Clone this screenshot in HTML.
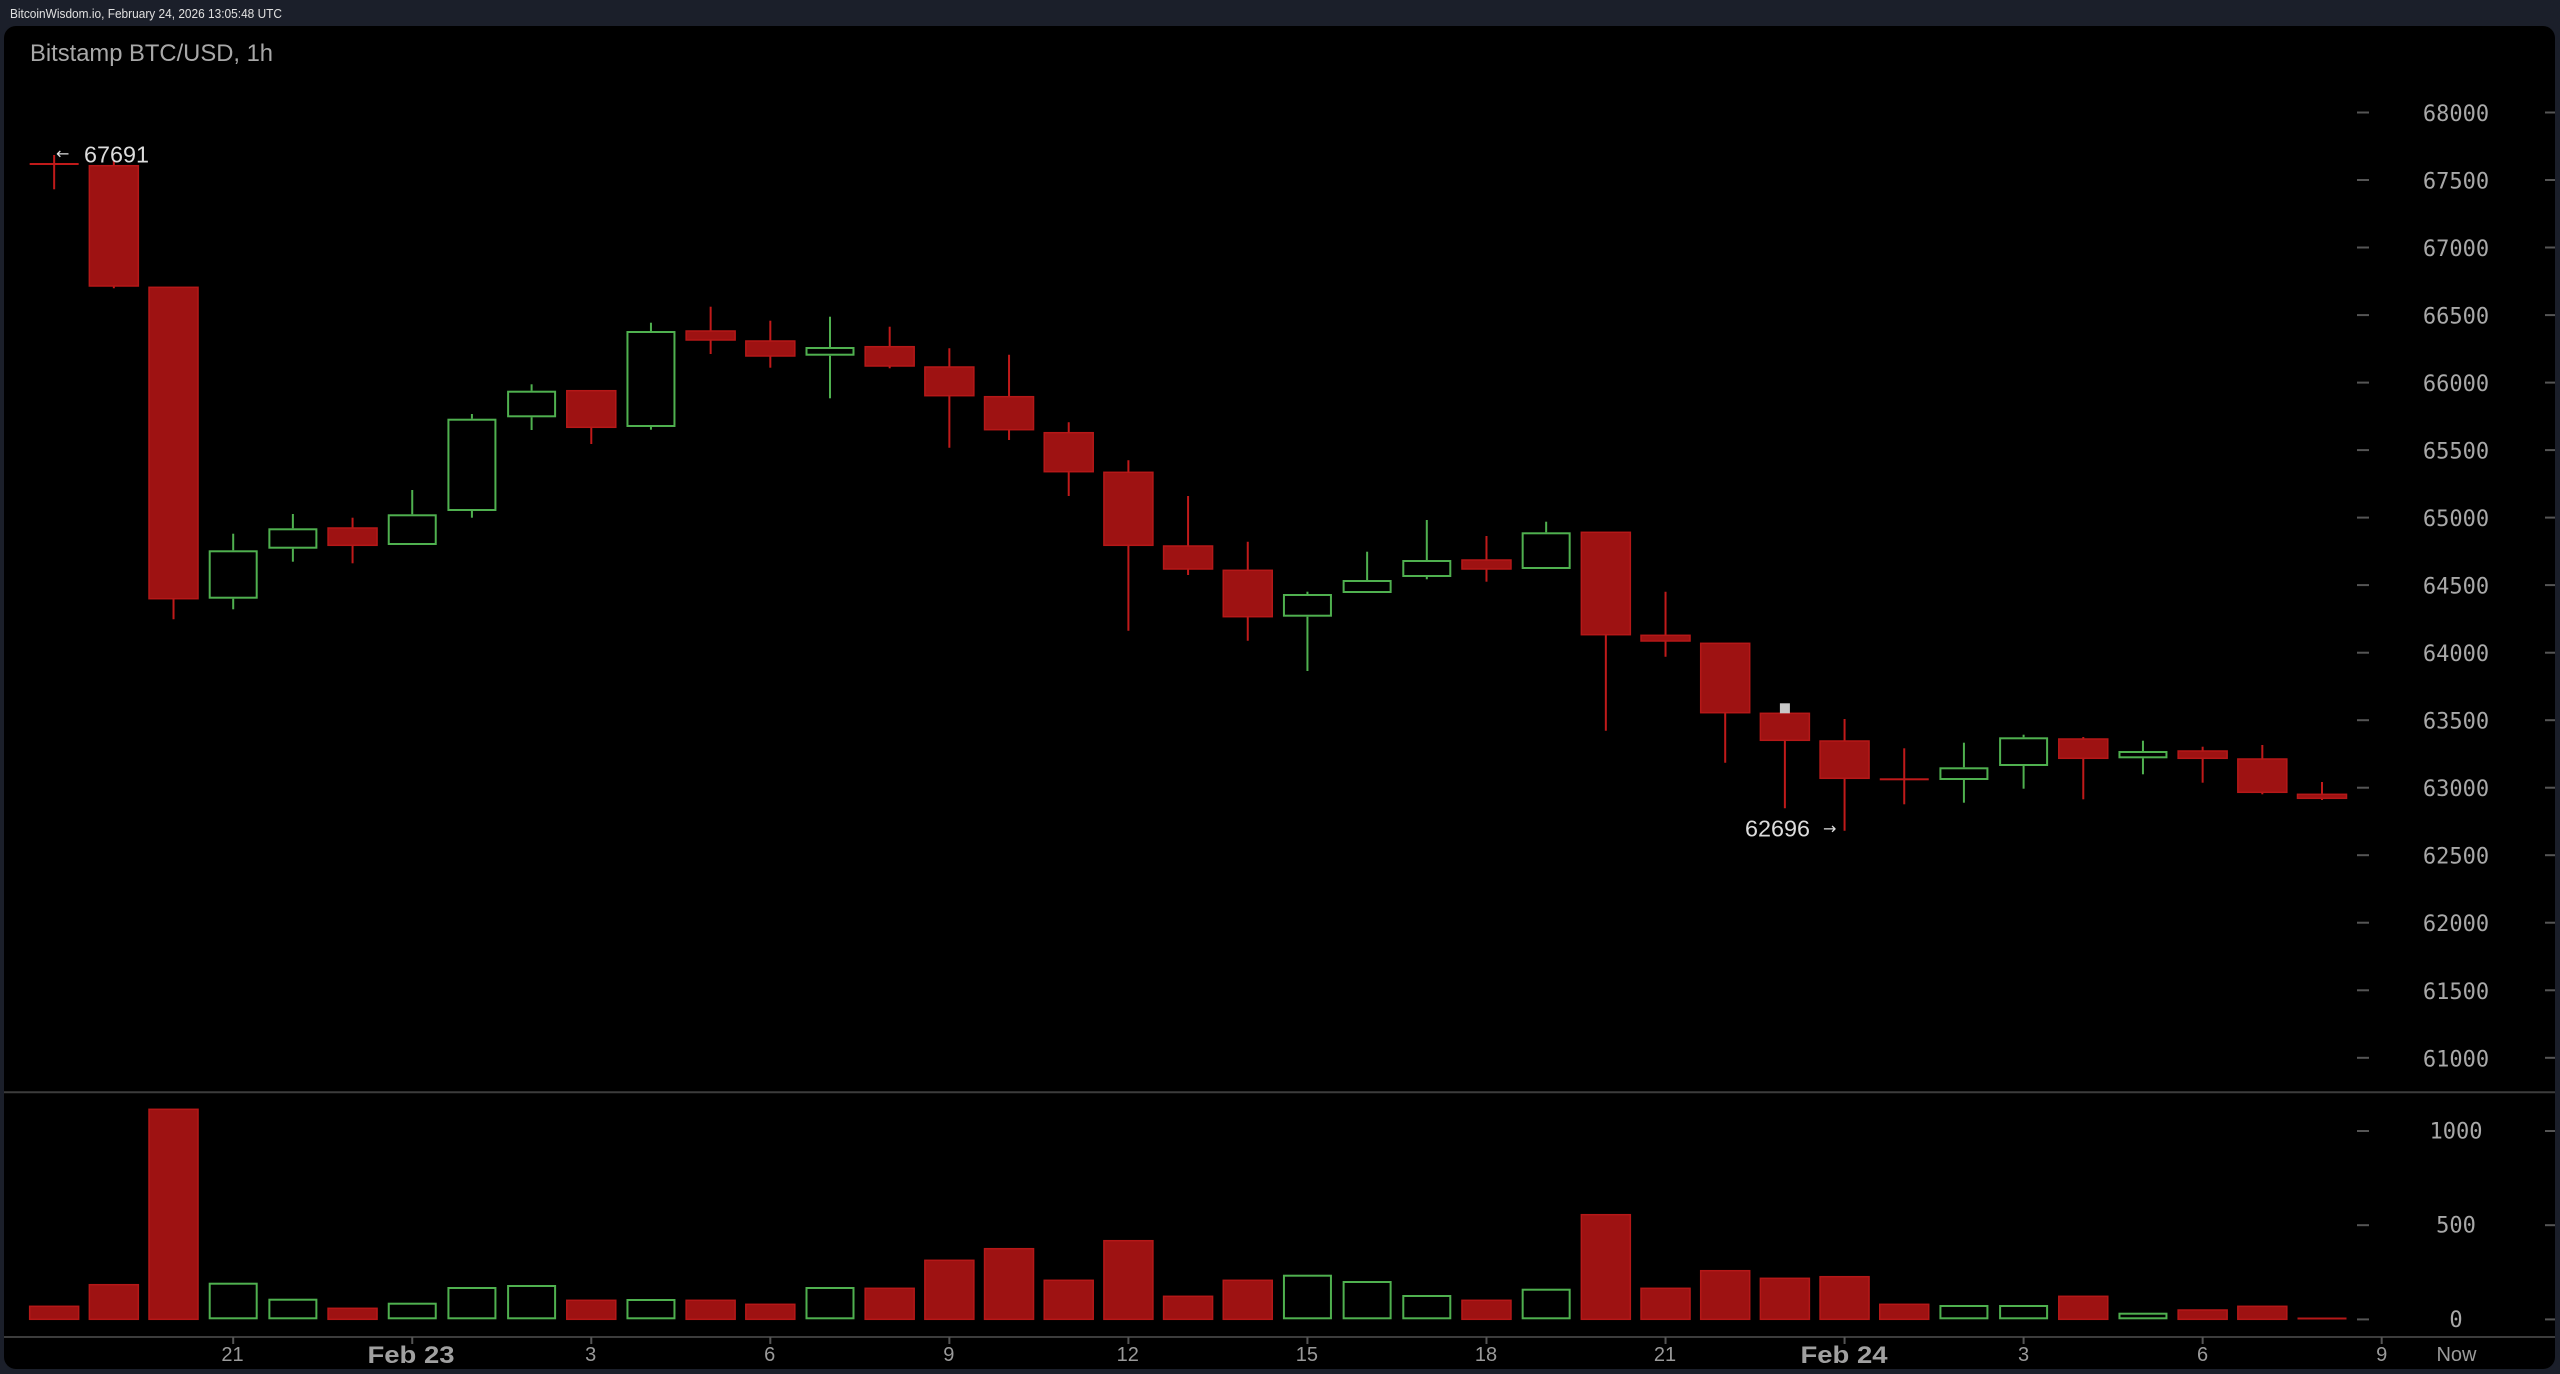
<!DOCTYPE html>
<html><head><meta charset="utf-8"><style>
html,body{margin:0;padding:0;background:#1b1f2a;}
svg{display:block;}
.rw{stroke:#c01a1a;stroke-width:2;}
.rb{fill:#9e1212;stroke:#b51818;stroke-width:1.5;}
.gw{stroke:#4fb04f;stroke-width:2;}
.gb{fill:none;stroke:#4fb04f;stroke-width:2;}
.yl{font-family:"DejaVu Sans Mono","Liberation Mono",monospace;font-size:22px;fill:#a8a8a8;text-anchor:middle;}
.xl{font-family:"Liberation Sans",sans-serif;font-size:20px;fill:#9a9a9a;text-anchor:middle;}
.xb{font-family:"Liberation Sans",sans-serif;font-size:24px;font-weight:bold;fill:#a0a0a0;text-anchor:middle;}
.tk{stroke:#555;stroke-width:2;}
</style></head><body>
<svg width="2560" height="1374" viewBox="0 0 2560 1374" xmlns="http://www.w3.org/2000/svg">
<rect x="0" y="0" width="2560" height="1374" fill="#1b1f2a"/>
<text x="10" y="18" font-family="Liberation Sans,sans-serif" font-size="13" fill="#e0e0e0" textLength="272" lengthAdjust="spacingAndGlyphs">BitcoinWisdom.io, February 24, 2026 13:05:48 UTC</text>
<rect x="4" y="26" width="2551" height="1343" rx="12" fill="#000"/>
<text x="30" y="61" font-family="Liberation Sans,sans-serif" font-size="24" fill="#a8a8a8" textLength="243" lengthAdjust="spacingAndGlyphs">Bitstamp BTC/USD, 1h</text>

<!-- price axis -->
<g class="tk">
<line x1="2357" y1="112.5" x2="2369" y2="112.5"/><line x1="2545" y1="112.5" x2="2555" y2="112.5"/>
<line x1="2357" y1="180" x2="2369" y2="180"/><line x1="2545" y1="180" x2="2555" y2="180"/>
<line x1="2357" y1="247.5" x2="2369" y2="247.5"/><line x1="2545" y1="247.5" x2="2555" y2="247.5"/>
<line x1="2357" y1="315.1" x2="2369" y2="315.1"/><line x1="2545" y1="315.1" x2="2555" y2="315.1"/>
<line x1="2357" y1="382.6" x2="2369" y2="382.6"/><line x1="2545" y1="382.6" x2="2555" y2="382.6"/>
<line x1="2357" y1="450.1" x2="2369" y2="450.1"/><line x1="2545" y1="450.1" x2="2555" y2="450.1"/>
<line x1="2357" y1="517.6" x2="2369" y2="517.6"/><line x1="2545" y1="517.6" x2="2555" y2="517.6"/>
<line x1="2357" y1="585.1" x2="2369" y2="585.1"/><line x1="2545" y1="585.1" x2="2555" y2="585.1"/>
<line x1="2357" y1="652.7" x2="2369" y2="652.7"/><line x1="2545" y1="652.7" x2="2555" y2="652.7"/>
<line x1="2357" y1="720.2" x2="2369" y2="720.2"/><line x1="2545" y1="720.2" x2="2555" y2="720.2"/>
<line x1="2357" y1="787.7" x2="2369" y2="787.7"/><line x1="2545" y1="787.7" x2="2555" y2="787.7"/>
<line x1="2357" y1="855.2" x2="2369" y2="855.2"/><line x1="2545" y1="855.2" x2="2555" y2="855.2"/>
<line x1="2357" y1="922.7" x2="2369" y2="922.7"/><line x1="2545" y1="922.7" x2="2555" y2="922.7"/>
<line x1="2357" y1="990.3" x2="2369" y2="990.3"/><line x1="2545" y1="990.3" x2="2555" y2="990.3"/>
<line x1="2357" y1="1057.8" x2="2369" y2="1057.8"/><line x1="2545" y1="1057.8" x2="2555" y2="1057.8"/>
<line x1="2357" y1="1131" x2="2369" y2="1131"/><line x1="2545" y1="1131" x2="2555" y2="1131"/>
<line x1="2357" y1="1225.2" x2="2369" y2="1225.2"/><line x1="2545" y1="1225.2" x2="2555" y2="1225.2"/>
<line x1="2357" y1="1319.4" x2="2369" y2="1319.4"/><line x1="2545" y1="1319.4" x2="2555" y2="1319.4"/>
</g>
<g class="yl">
<text x="2456" y="121">68000</text>
<text x="2456" y="188.5">67500</text>
<text x="2456" y="256">67000</text>
<text x="2456" y="323.6">66500</text>
<text x="2456" y="391.1">66000</text>
<text x="2456" y="458.6">65500</text>
<text x="2456" y="526.1">65000</text>
<text x="2456" y="593.6">64500</text>
<text x="2456" y="661.2">64000</text>
<text x="2456" y="728.7">63500</text>
<text x="2456" y="796.2">63000</text>
<text x="2456" y="863.7">62500</text>
<text x="2456" y="931.2">62000</text>
<text x="2456" y="998.8">61500</text>
<text x="2456" y="1066.3">61000</text>
<text x="2456" y="1138.5">1000</text>
<text x="2456" y="1232.7">500</text>
<text x="2456" y="1327">0</text>
</g>

<!-- separators -->
<line x1="4" y1="1092.3" x2="2555" y2="1092.3" stroke="#3c3c3c" stroke-width="2"/>
<line x1="4" y1="1337" x2="2555" y2="1337" stroke="#3c3c3c" stroke-width="2"/>

<!-- candles -->
<line class="rw" x1="54.16" y1="155" x2="54.16" y2="189.3"/><rect x="29.66" y="163" width="49" height="2" fill="#c01a1a"/>
<line class="rw" x1="113.84" y1="160.7" x2="113.84" y2="288.3"/><rect class="rb" x="89.34" y="165.7" width="49" height="120.3"/>
<line class="rw" x1="173.52" y1="287.3" x2="173.52" y2="619.3"/><rect class="rb" x="149.02" y="287.3" width="49" height="311.4"/>
<line class="gw" x1="233.2" y1="533.7" x2="233.2" y2="550.3"/><line class="gw" x1="233.2" y1="598.7" x2="233.2" y2="609.3"/><rect class="gb" x="209.7" y="551.3" width="47" height="46.4"/>
<line class="gw" x1="292.88" y1="514" x2="292.88" y2="528.3"/><line class="gw" x1="292.88" y1="548.7" x2="292.88" y2="561.7"/><rect class="gb" x="269.38" y="529.3" width="47" height="18.4"/>
<line class="rw" x1="352.56" y1="517.7" x2="352.56" y2="563.3"/><rect class="rb" x="328.06" y="528" width="49" height="17.3"/>
<line class="gw" x1="412.24" y1="490" x2="412.24" y2="514.3"/><rect class="gb" x="388.74" y="515.3" width="47" height="28.7"/>
<line class="gw" x1="471.92" y1="414" x2="471.92" y2="418.7"/><line class="gw" x1="471.92" y1="511" x2="471.92" y2="517.7"/><rect class="gb" x="448.42" y="419.7" width="47" height="90.3"/>
<line class="gw" x1="531.6" y1="384.3" x2="531.6" y2="390.7"/><line class="gw" x1="531.6" y1="417.3" x2="531.6" y2="430"/><rect class="gb" x="508.1" y="391.7" width="47" height="24.6"/>
<line class="rw" x1="591.28" y1="390.7" x2="591.28" y2="444"/><rect class="rb" x="566.78" y="390.7" width="49" height="36.6"/>
<line class="gw" x1="650.96" y1="322.7" x2="650.96" y2="331"/><line class="gw" x1="650.96" y1="427" x2="650.96" y2="429.7"/><rect class="gb" x="627.46" y="332" width="47" height="94"/>
<line class="rw" x1="710.64" y1="306.7" x2="710.64" y2="354"/><rect class="rb" x="686.14" y="331" width="49" height="9"/>
<line class="rw" x1="770.32" y1="320.7" x2="770.32" y2="367.7"/><rect class="rb" x="745.82" y="341" width="49" height="15"/>
<line class="gw" x1="830" y1="316.7" x2="830" y2="347"/><line class="gw" x1="830" y1="355.7" x2="830" y2="398.3"/><rect class="gb" x="806.5" y="348" width="47" height="6.7"/>
<line class="rw" x1="889.68" y1="326.7" x2="889.68" y2="368.3"/><rect class="rb" x="865.18" y="346.7" width="49" height="19.3"/>
<line class="rw" x1="949.36" y1="348.3" x2="949.36" y2="447.7"/><rect class="rb" x="924.86" y="367" width="49" height="28.7"/>
<line class="rw" x1="1009.04" y1="354.7" x2="1009.04" y2="440"/><rect class="rb" x="984.54" y="396.7" width="49" height="33"/>
<line class="rw" x1="1068.72" y1="422.3" x2="1068.72" y2="496"/><rect class="rb" x="1044.22" y="432.7" width="49" height="39"/>
<line class="rw" x1="1128.4" y1="460.3" x2="1128.4" y2="630.7"/><rect class="rb" x="1103.9" y="472.3" width="49" height="73"/>
<line class="rw" x1="1188.08" y1="496" x2="1188.08" y2="575"/><rect class="rb" x="1163.58" y="546" width="49" height="23"/>
<line class="rw" x1="1247.76" y1="541.7" x2="1247.76" y2="640.7"/><rect class="rb" x="1223.26" y="570.3" width="49" height="46.4"/>
<line class="gw" x1="1307.44" y1="591.7" x2="1307.44" y2="594"/><line class="gw" x1="1307.44" y1="616.7" x2="1307.44" y2="671"/><rect class="gb" x="1283.94" y="595" width="47" height="20.7"/>
<line class="gw" x1="1367.12" y1="551.7" x2="1367.12" y2="580"/><rect class="gb" x="1343.62" y="581" width="47" height="11"/>
<line class="gw" x1="1426.8" y1="520" x2="1426.8" y2="560"/><line class="gw" x1="1426.8" y1="577" x2="1426.8" y2="579.3"/><rect class="gb" x="1403.3" y="561" width="47" height="15"/>
<line class="rw" x1="1486.48" y1="536" x2="1486.48" y2="581.7"/><rect class="rb" x="1461.98" y="560" width="49" height="9"/>
<line class="gw" x1="1546.16" y1="521.7" x2="1546.16" y2="532.3"/><rect class="gb" x="1522.66" y="533.3" width="47" height="34.7"/>
<line class="rw" x1="1605.84" y1="532.3" x2="1605.84" y2="730.7"/><rect class="rb" x="1581.34" y="532.3" width="49" height="102.4"/>
<line class="rw" x1="1665.52" y1="591.7" x2="1665.52" y2="656.7"/><rect class="rb" x="1641.02" y="635.3" width="49" height="5.7"/>
<line class="rw" x1="1725.2" y1="643.3" x2="1725.2" y2="762.7"/><rect class="rb" x="1700.7" y="643.3" width="49" height="69.4"/>
<line class="rw" x1="1784.88" y1="713.3" x2="1784.88" y2="808.3"/><rect class="rb" x="1760.38" y="713.3" width="49" height="27"/><rect x="1779.9" y="703.3" width="10" height="10" fill="#c8c8c8"/>
<line class="rw" x1="1844.56" y1="719" x2="1844.56" y2="830.7"/><rect class="rb" x="1820.06" y="741" width="49" height="37.3"/>
<line class="rw" x1="1904.24" y1="748.3" x2="1904.24" y2="804.3"/><rect x="1879.74" y="778.3" width="49" height="2" fill="#c01a1a"/>
<line class="gw" x1="1963.92" y1="742.7" x2="1963.92" y2="767.3"/><line class="gw" x1="1963.92" y1="780" x2="1963.92" y2="802.7"/><rect class="gb" x="1940.42" y="768.3" width="47" height="10.7"/>
<line class="gw" x1="2023.6" y1="734.7" x2="2023.6" y2="737.3"/><line class="gw" x1="2023.6" y1="766" x2="2023.6" y2="788.7"/><rect class="gb" x="2000.1" y="738.3" width="47" height="26.7"/>
<line class="rw" x1="2083.28" y1="737" x2="2083.28" y2="799.3"/><rect class="rb" x="2058.78" y="739" width="49" height="19.3"/>
<line class="gw" x1="2142.96" y1="740.7" x2="2142.96" y2="751"/><line class="gw" x1="2142.96" y1="758.3" x2="2142.96" y2="774.3"/><rect class="gb" x="2119.46" y="752" width="47" height="5.3"/>
<line class="rw" x1="2202.64" y1="746.7" x2="2202.64" y2="782.7"/><rect class="rb" x="2178.14" y="751" width="49" height="7.3"/>
<line class="rw" x1="2262.32" y1="745" x2="2262.32" y2="794.3"/><rect class="rb" x="2237.82" y="759" width="49" height="33.3"/>
<line class="rw" x1="2322" y1="782" x2="2322" y2="800"/><rect class="rb" x="2297.5" y="794.3" width="49" height="4"/>

<!-- hi / lo labels -->
<text x="56" y="159" font-family="DejaVu Sans,sans-serif" font-size="16" fill="#dcdcdc">←</text>
<text x="84" y="162.3" font-family="Liberation Sans,sans-serif" font-size="23" fill="#dcdcdc" textLength="65" lengthAdjust="spacingAndGlyphs">67691</text>
<text x="1745" y="836.5" font-family="Liberation Sans,sans-serif" font-size="23" fill="#dcdcdc" textLength="65" lengthAdjust="spacingAndGlyphs">62696</text>
<text x="1823" y="834" font-family="DejaVu Sans,sans-serif" font-size="16" fill="#dcdcdc">→</text>

<!-- volume -->
<rect class="rb" x="29.66" y="1306.3" width="49" height="13"/>
<rect class="rb" x="89.34" y="1284.7" width="49" height="34.6"/>
<rect class="rb" x="149.02" y="1109.3" width="49" height="210"/>
<rect class="gb" x="209.7" y="1283.7" width="47" height="34.6"/>
<rect class="gb" x="269.38" y="1299.7" width="47" height="18.6"/>
<rect class="rb" x="328.06" y="1308.3" width="49" height="11"/>
<rect class="gb" x="388.74" y="1303.7" width="47" height="14.6"/>
<rect class="gb" x="448.42" y="1288" width="47" height="30.3"/>
<rect class="gb" x="508.1" y="1286" width="47" height="32.3"/>
<rect class="rb" x="566.78" y="1300.3" width="49" height="19"/>
<rect class="gb" x="627.46" y="1300" width="47" height="18.3"/>
<rect class="rb" x="686.14" y="1300.3" width="49" height="19"/>
<rect class="rb" x="745.82" y="1304.3" width="49" height="15"/>
<rect class="gb" x="806.5" y="1288" width="47" height="30.3"/>
<rect class="rb" x="865.18" y="1288.3" width="49" height="31"/>
<rect class="rb" x="924.86" y="1260.3" width="49" height="59"/>
<rect class="rb" x="984.54" y="1248.7" width="49" height="70.6"/>
<rect class="rb" x="1044.22" y="1280.3" width="49" height="39"/>
<rect class="rb" x="1103.9" y="1240.7" width="49" height="78.6"/>
<rect class="rb" x="1163.58" y="1296.3" width="49" height="23"/>
<rect class="rb" x="1223.26" y="1280.3" width="49" height="39"/>
<rect class="gb" x="1283.94" y="1275.7" width="47" height="42.6"/>
<rect class="gb" x="1343.62" y="1282" width="47" height="36.3"/>
<rect class="gb" x="1403.3" y="1296" width="47" height="22.3"/>
<rect class="rb" x="1461.98" y="1300.3" width="49" height="19"/>
<rect class="gb" x="1522.66" y="1289.7" width="47" height="28.6"/>
<rect class="rb" x="1581.34" y="1214.7" width="49" height="104.6"/>
<rect class="rb" x="1641.02" y="1288.3" width="49" height="31"/>
<rect class="rb" x="1700.7" y="1270.7" width="49" height="48.6"/>
<rect class="rb" x="1760.38" y="1278.3" width="49" height="41"/>
<rect class="rb" x="1820.06" y="1276.7" width="49" height="42.6"/>
<rect class="rb" x="1879.74" y="1304.3" width="49" height="15"/>
<rect class="gb" x="1940.42" y="1306" width="47" height="12.3"/>
<rect class="gb" x="2000.1" y="1306" width="47" height="12.3"/>
<rect class="rb" x="2058.78" y="1296.3" width="49" height="23"/>
<rect class="gb" x="2119.46" y="1313.7" width="47" height="4.6"/>
<rect class="rb" x="2178.14" y="1310" width="49" height="9.3"/>
<rect class="rb" x="2237.82" y="1306.3" width="49" height="13"/>
<rect x="2297.5" y="1317.5" width="49" height="2" fill="#b51818"/>

<!-- x axis ticks -->
<g class="tk">
<line x1="233.2" y1="1337" x2="233.2" y2="1344"/>
<line x1="412.24" y1="1337" x2="412.24" y2="1344"/>
<line x1="591.28" y1="1337" x2="591.28" y2="1344"/>
<line x1="770.32" y1="1337" x2="770.32" y2="1344"/>
<line x1="949.36" y1="1337" x2="949.36" y2="1344"/>
<line x1="1128.4" y1="1337" x2="1128.4" y2="1344"/>
<line x1="1307.44" y1="1337" x2="1307.44" y2="1344"/>
<line x1="1486.48" y1="1337" x2="1486.48" y2="1344"/>
<line x1="1665.52" y1="1337" x2="1665.52" y2="1344"/>
<line x1="1844.56" y1="1337" x2="1844.56" y2="1344"/>
<line x1="2023.6" y1="1337" x2="2023.6" y2="1344"/>
<line x1="2202.64" y1="1337" x2="2202.64" y2="1344"/>
<line x1="2381.68" y1="1337" x2="2381.68" y2="1344"/>
</g>
<g class="xl">
<text x="232.5" y="1361">21</text>
<text x="590.7" y="1361">3</text>
<text x="769.7" y="1361">6</text>
<text x="948.8" y="1361">9</text>
<text x="1127.8" y="1361">12</text>
<text x="1306.9" y="1361">15</text>
<text x="1486" y="1361">18</text>
<text x="1665" y="1361">21</text>
<text x="2023.6" y="1361">3</text>
<text x="2202.6" y="1361">6</text>
<text x="2381.7" y="1361">9</text>
<text x="2456.5" y="1361">Now</text>
</g>
<g class="xb">
<text x="411" y="1363" textLength="87" lengthAdjust="spacingAndGlyphs">Feb 23</text>
<text x="1844" y="1363" textLength="87" lengthAdjust="spacingAndGlyphs">Feb 24</text>
</g>
</svg>
</body></html>
